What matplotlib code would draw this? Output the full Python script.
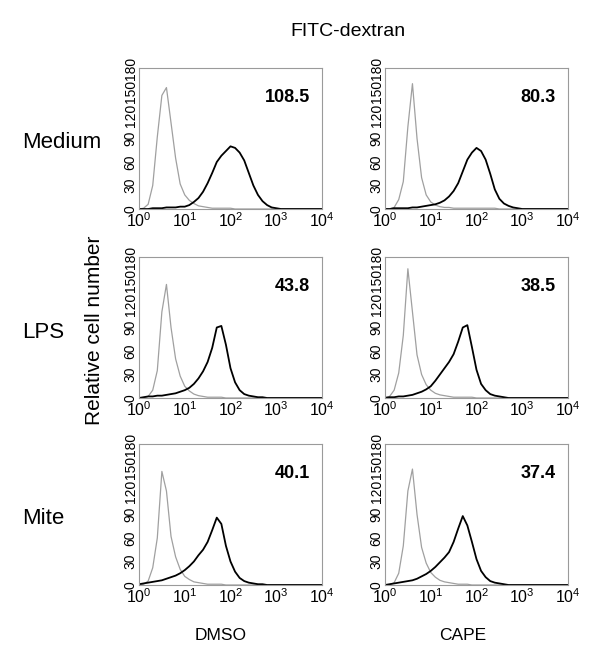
import numpy as np
import matplotlib
matplotlib.use("Agg")
import matplotlib.pyplot as plt

plt.rcParams["font.family"] = ["Liberation Sans", "DejaVu Sans"]
plt.rcParams["mathtext.default"] = "regular"

# channel positions: log10 fluorescence from 10^0 to 10^4 in steps of 0.1 decade
LOG_BINS = np.linspace(0, 4, 41)

# gray = unstained control, black = FITC-dextran uptake
med_dmso_ctrl = [0, 1, 6, 30, 92, 145, 155, 110, 65, 32,
                 18, 11, 7, 4, 3, 2, 1, 1, 1, 1,
                 1, 0, 0, 0, 0, 0, 0, 0, 0, 0,
                 0, 0, 0, 0, 0, 0, 0, 0, 0, 0, 0]
med_dmso_fitc = [0, 0, 0, 1, 1, 1, 2, 2, 2, 3,
                 3, 5, 9, 14, 22, 33, 46, 60, 68, 74,
                 80, 78, 72, 62, 46, 30, 18, 10, 5, 2,
                 1, 0, 0, 0, 0, 0, 0, 0, 0, 0, 0]
med_cape_ctrl = [0, 0, 2, 12, 35, 105, 160, 90, 40, 18,
                 9, 5, 3, 2, 2, 1, 1, 1, 1, 1,
                 1, 1, 1, 1, 1, 0, 0, 0, 0, 0,
                 0, 0, 0, 0, 0, 0, 0, 0, 0, 0, 0]
med_cape_fitc = [0, 0, 1, 1, 1, 1, 2, 2, 3, 4,
                 5, 6, 8, 11, 16, 23, 33, 48, 63, 72,
                 78, 74, 63, 45, 25, 13, 7, 4, 2, 1,
                 0, 0, 0, 0, 0, 0, 0, 0, 0, 0, 0]
lps_dmso_ctrl = [0, 0, 2, 10, 35, 110, 145, 90, 50, 28,
                 15, 9, 5, 3, 2, 1, 1, 1, 1, 0,
                 0, 0, 0, 0, 0, 0, 0, 0, 0, 0,
                 0, 0, 0, 0, 0, 0, 0, 0, 0, 0, 0]
lps_dmso_fitc = [0, 1, 2, 2, 3, 3, 4, 5, 6, 8,
                 10, 13, 18, 25, 34, 46, 64, 90, 92, 68,
                 38, 20, 10, 5, 3, 2, 1, 1, 0, 0,
                 0, 0, 0, 0, 0, 0, 0, 0, 0, 0, 0]
lps_cape_ctrl = [1, 2, 10, 32, 80, 165, 110, 55, 30, 17,
                 10, 6, 4, 3, 2, 1, 1, 1, 1, 1,
                 0, 0, 0, 0, 0, 0, 0, 0, 0, 0,
                 0, 0, 0, 0, 0, 0, 0, 0, 0, 0, 0]
lps_cape_fitc = [0, 1, 1, 2, 2, 3, 4, 6, 8, 11,
                 15, 22, 30, 38, 46, 56, 72, 90, 93, 65,
                 36, 18, 10, 5, 3, 2, 1, 0, 0, 0,
                 0, 0, 0, 0, 0, 0, 0, 0, 0, 0, 0]
mite_dmso_ctrl = [0, 1, 5, 22, 60, 145, 120, 62, 36, 20,
                  11, 7, 4, 3, 2, 1, 1, 1, 1, 0,
                  0, 0, 0, 0, 0, 0, 0, 0, 0, 0,
                  0, 0, 0, 0, 0, 0, 0, 0, 0, 0, 0]
mite_dmso_fitc = [1, 2, 3, 4, 5, 6, 8, 10, 12, 15,
                  19, 24, 30, 38, 45, 55, 70, 86, 78, 50,
                  30, 17, 9, 5, 3, 2, 1, 1, 0, 0,
                  0, 0, 0, 0, 0, 0, 0, 0, 0, 0, 0]
mite_cape_ctrl = [0, 0, 3, 15, 50, 120, 148, 90, 48, 28,
                  16, 10, 6, 4, 3, 2, 1, 1, 1, 0,
                  0, 0, 0, 0, 0, 0, 0, 0, 0, 0,
                  0, 0, 0, 0, 0, 0, 0, 0, 0, 0, 0]
mite_cape_fitc = [0, 1, 2, 3, 4, 5, 6, 8, 11, 14,
                  18, 23, 29, 35, 42, 55, 72, 88, 76, 55,
                  33, 18, 10, 5, 3, 2, 1, 0, 0, 0,
                  0, 0, 0, 0, 0, 0, 0, 0, 0, 0, 0]

row_names = ["Medium", "LPS", "Mite"]
col_names = ["DMSO", "CAPE"]
mfi_values = [["108.5", "80.3"], ["43.8", "38.5"], ["40.1", "37.4"]]
panels = [
    [(med_dmso_ctrl, med_dmso_fitc), (med_cape_ctrl, med_cape_fitc)],
    [(lps_dmso_ctrl, lps_dmso_fitc), (lps_cape_ctrl, lps_cape_fitc)],
    [(mite_dmso_ctrl, mite_dmso_fitc), (mite_cape_ctrl, mite_cape_fitc)],
]
y_ticks = [0, 30, 60, 90, 120, 150, 180]

W, H = 600, 660
col_x = [139, 385]
row_y = [68, 257, 444]
ax_w, ax_h = 183, 141

fig = plt.figure(figsize=(6, 6.6), dpi=100)
x = 10 ** LOG_BINS

for r in range(3):
    for c in range(2):
        ax = fig.add_axes([col_x[c] / W, 1 - (row_y[r] + ax_h) / H, ax_w / W, ax_h / H])
        ctrl, fitc = panels[r][c]
        ax.plot(x, ctrl, color="#a0a0a0", lw=0.9)
        ax.plot(x, fitc, color="black", lw=1.3)
        ax.set_xscale("log")
        ax.set_xlim(1, 1e4)
        ax.set_ylim(0, 180)
        ax.set_xticks([1, 10, 100, 1000, 10000])
        ax.minorticks_off()
        ax.set_yticks(y_ticks)
        ax.set_yticklabels([str(t) for t in y_ticks])
        ax.tick_params(axis="x", length=0, labelsize=11.5, pad=2)
        ax.tick_params(axis="y", length=0, labelrotation=90, labelsize=10, pad=1)
        for lbl in ax.get_yticklabels():
            lbl.set_va("center")
        for sp in ax.spines.values():
            sp.set_color("#9a9a9a")
            sp.set_linewidth(0.8)
        ax.text(0.934, 0.794, mfi_values[r][c], transform=ax.transAxes,
                ha="right", va="center", fontsize=13, fontweight="bold")

# row labels, column labels and titles
row_label_y = [143, 333, 519]
for name, yy in zip(row_names, row_label_y):
    fig.text(22 / W, 1 - yy / H, name, ha="left", va="center", fontsize=16)

col_label_x = [221, 463]
for name, xx in zip(col_names, col_label_x):
    fig.text(xx / W, 1 - 635 / H, name, ha="center", va="center", fontsize=12.5)

fig.text(348 / W, 1 - 32 / H, "FITC-dextran", ha="center", va="center", fontsize=14)
fig.text(95 / W, 1 - 330 / H, "Relative cell number", ha="center", va="center",
         rotation=90, fontsize=15)

fig.savefig("out.png", dpi=100)
